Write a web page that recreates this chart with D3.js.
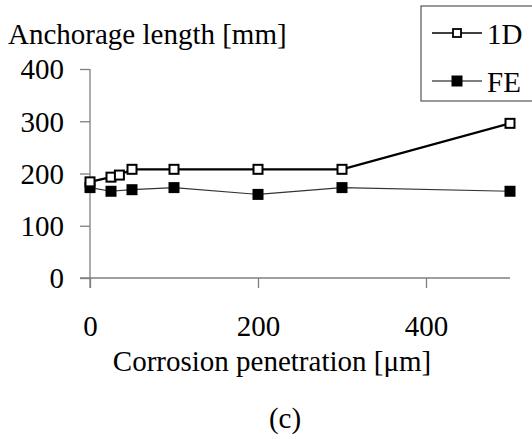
<!DOCTYPE html>
<html><head><meta charset="utf-8">
<script src="https://cdn.jsdelivr.net/npm/d3@7"></script>
<style>body{margin:0;background:#fff}svg{display:block}</style>
</head><body>
<svg id="c" width="532" height="439"></svg>
<script>
const xValues1D = [0, 25, 35, 50, 100, 200, 300, 500];
const values1D  = [184, 193, 197, 208, 208, 208, 208, 296];
const xValuesFE = [0, 25, 50, 100, 200, 300, 500];
const valuesFE  = [173, 166, 169, 173, 160, 173, 166];
const xTicks = [0, 200, 400];
const yTicks = [0, 100, 200, 300, 400];
const seriesNames = ["1D", "FE"];

const FONT = "Liberation Serif, DejaVu Serif, serif";
const svg = d3.select("#c");
const x = d3.scaleLinear().domain([0, 500]).range([90, 510]);
const y = d3.scaleLinear().domain([0, 400]).range([278, 69]);
const fs = 29;
const axisColor = "#7f7f7f";

function styleText(sel) {
  return sel.attr("font-family", FONT).attr("font-size", fs).attr("fill", "#000")
    .style("font-family", FONT).style("font-size", fs + "px");
}

const yAxis = svg.append("g").attr("transform", "translate(90,0)")
  .call(d3.axisLeft(y).tickValues(yTicks).tickSize(10).tickPadding(16).tickFormat(d3.format("d")));
const xAxis = svg.append("g").attr("transform", "translate(0,278)")
  .call(d3.axisBottom(x).tickValues(xTicks).tickSize(10).tickPadding(27).tickFormat(d3.format("d")));
[xAxis, yAxis].forEach(a => {
  a.attr("font-family", FONT).attr("font-size", fs);
  a.select(".domain").remove();
  a.selectAll("line").attr("stroke", axisColor).attr("stroke-width", 1.3);
  styleText(a.selectAll("text"));
});
yAxis.selectAll("text").attr("dy", "0.34em");
svg.append("line").attr("x1", 90).attr("x2", 90).attr("y1", y(400)).attr("y2", 288)
  .attr("stroke", axisColor).attr("stroke-width", 1.3);
svg.append("line").attr("x1", 80).attr("x2", x(500)).attr("y1", 278).attr("y2", 278)
  .attr("stroke", axisColor).attr("stroke-width", 1.3);

styleText(svg.append("text").attr("x", 8).attr("y", 44)).text("Anchorage length [mm]");
styleText(svg.append("text").attr("x", 272).attr("y", 371).attr("text-anchor", "middle")).text("Corrosion penetration [μm]");
styleText(svg.append("text").attr("x", 285).attr("y", 428).attr("text-anchor", "middle")).text("(c)");

const d1 = xValues1D.map((v, i) => [v, values1D[i]]);
const dF = xValuesFE.map((v, i) => [v, valuesFE[i]]);
const line = d3.line().x(d => x(d[0])).y(d => y(d[1]));
svg.append("path").datum(dF).attr("d", line).attr("fill", "none").attr("stroke", "#333").attr("stroke-width", 1.2);
svg.append("path").datum(d1).attr("d", line).attr("fill", "none").attr("stroke", "#000").attr("stroke-width", 2.2);
svg.selectAll(".mF").data(dF).join("rect").attr("class", "mF")
  .attr("x", d => x(d[0]) - 5.5).attr("y", d => y(d[1]) - 5.5).attr("width", 11).attr("height", 11).attr("fill", "#000");
svg.selectAll(".m1").data(d1).join("rect").attr("class", "m1")
  .attr("x", d => x(d[0]) - 4.5).attr("y", d => y(d[1]) - 4.5).attr("width", 9).attr("height", 9)
  .attr("fill", "#fff").attr("stroke", "#000").attr("stroke-width", 2);

const lg = svg.append("g");
lg.append("rect").attr("x", 421).attr("y", 6).attr("width", 130).attr("height", 95)
  .attr("fill", "#fff").attr("stroke", "#555").attr("stroke-width", 1.2);
seriesNames.forEach((name, i) => {
  const ly = 33 + i * 48;
  lg.append("line").attr("x1", 432).attr("x2", 482).attr("y1", ly).attr("y2", ly)
    .attr("stroke", "#000").attr("stroke-width", i === 0 ? 1.6 : 1.2);
  if (i === 0) {
    lg.append("rect").attr("x", 457 - 4).attr("y", ly - 4).attr("width", 8).attr("height", 8)
      .attr("fill", "#fff").attr("stroke", "#000").attr("stroke-width", 1.8);
  } else {
    lg.append("rect").attr("x", 457 - 5.5).attr("y", ly - 5.5).attr("width", 11).attr("height", 11).attr("fill", "#000");
  }
  styleText(lg.append("text").attr("x", 487).attr("y", ly + 11)).text(name);
});
</script>
</body></html>
